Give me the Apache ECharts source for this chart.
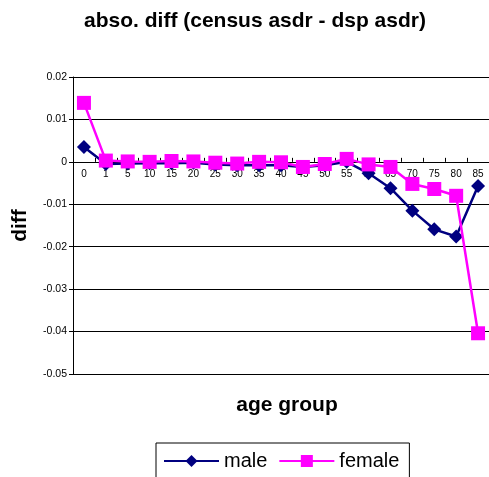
<!DOCTYPE html>
<html>
<head>
<meta charset="utf-8">
<script src="https://cdn.jsdelivr.net/npm/echarts@6/dist/echarts.min.js"></script>
<style>
  html, body { margin: 0; padding: 0; background: #fff; }
  #chart { width: 489px; height: 477px; }
</style>
</head>
<body>
<div id="chart"></div>
<script>
// Age groups along the category axis
const ageGroups = ['0','1','5','10','15','20','25','30','35','40','45','50','55','60','65','70','75','80','85'];

// Absolute difference, census ASDR minus DSP ASDR
const maleDiff = [0.0035, -0.0005, -0.0004, -0.0003, -0.0003, -0.0002, -0.0006, -0.0008, -0.0008, -0.0008, -0.0012, -0.0008, 0.0000, -0.0027, -0.0062, -0.0115, -0.0159, -0.0176, -0.0057];
const femaleDiff = [0.0139, 0.0003, 0.0001, 0.0000, 0.0002, 0.0001, -0.0002, -0.0004, 0.0000, -0.0001, -0.0012, -0.0005, 0.0007, -0.0006, -0.0012, -0.0052, -0.0064, -0.0080, -0.0404];

const FONT = 'Liberation Sans, Arial, sans-serif';

// Value range of the y axis
const Y_MIN = -0.05, Y_MAX = 0.02, Y_STEP = 0.01;
const GRID_TOP = 77, GRID_BOTTOM = 103, CHART_H = 477;

// Shift the category axis up so it sits on the zero line
const plotH = CHART_H - GRID_TOP - GRID_BOTTOM;
const zeroOffset = -plotH * (0 - Y_MIN) / (Y_MAX - Y_MIN);

const chart = echarts.init(document.getElementById('chart'), null, { renderer: 'canvas' });

chart.setOption({
  animation: false,
  backgroundColor: '#ffffff',
  title: [
    {
      text: 'abso. diff (census asdr - dsp asdr)',
      left: 250, top: 6, textAlign: 'center',
      textStyle: { fontFamily: FONT, fontWeight: 'bold', fontSize: 21, color: '#000' }
    },
    {
      text: 'age group',
      left: 282, top: 390, textAlign: 'center',
      textStyle: { fontFamily: FONT, fontWeight: 'bold', fontSize: 21, color: '#000' }
    }
  ],
  grid: { left: 73, top: GRID_TOP, right: 0, bottom: GRID_BOTTOM, containLabel: false },
  legend: {
    left: 156, top: 443,
    padding: [8, 10, 20, 7],
    borderColor: '#000', borderWidth: 1,
    itemWidth: 55, itemHeight: 15, itemGap: 11,
    textStyle: { fontFamily: FONT, fontSize: 20, color: '#000' },
    data: ['male', 'female']
  },
  xAxis: {
    type: 'category',
    data: ageGroups,
    boundaryGap: true,
    offset: zeroOffset,
    axisLine: { onZero: false, lineStyle: { color: '#000', width: 1 } },
    axisTick: { show: true, inside: true, length: 4, lineStyle: { color: '#000' } },
    axisLabel: { fontFamily: FONT, fontSize: 10, color: '#000', margin: 7, interval: 0 },
    splitLine: { show: false }
  },
  yAxis: {
    type: 'value',
    min: Y_MIN, max: Y_MAX, interval: Y_STEP,
    name: 'diff',
    nameLocation: 'middle',
    nameGap: 42,
    nameRotate: 90,
    nameTextStyle: { fontFamily: FONT, fontWeight: 'bold', fontSize: 21, color: '#000' },
    axisLine: { show: true, lineStyle: { color: '#000', width: 1 } },
    axisTick: { show: true, length: 4, lineStyle: { color: '#000' } },
    axisLabel: {
      fontFamily: FONT, fontSize: 10.5, color: '#000', margin: 6,
      formatter: v => {
        const r = Math.round(v * 100) / 100;
        return r === 0 ? '0' : String(r);
      }
    },
    splitLine: { show: true, lineStyle: { color: '#000', width: 1 } }
  },
  series: [
    {
      name: 'male',
      type: 'line',
      data: maleDiff,
      symbol: 'diamond',
      symbolSize: 14,
      color: '#000080',
      lineStyle: { color: '#000080', width: 2.5 },
      itemStyle: { color: '#000080' },
      z: 2
    },
    {
      name: 'female',
      type: 'line',
      data: femaleDiff,
      symbol: 'rect',
      symbolSize: 14,
      color: '#ff00ff',
      lineStyle: { color: '#ff00ff', width: 2.5 },
      itemStyle: { color: '#ff00ff' },
      z: 3
    }
  ]
});
</script>
</body>
</html>
